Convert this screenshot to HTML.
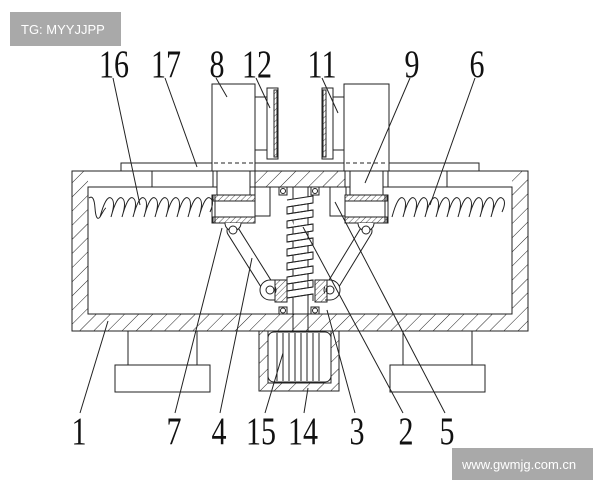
<!DOCTYPE html>
<html><head><meta charset="utf-8"><style>
html,body{margin:0;padding:0;background:#fff;}
svg{display:block;}
.n{font-family:"Liberation Serif",serif;font-size:30px;fill:#111;}
</style></head><body>
<svg width="600" height="480" viewBox="0 0 600 480" xmlns="http://www.w3.org/2000/svg">
<defs>
<pattern id="h" width="10" height="10" patternUnits="userSpaceOnUse" patternTransform="rotate(45)">
<line x1="0" y1="0" x2="0" y2="10" stroke="#222" stroke-width="1"/>
</pattern>
<pattern id="hs" width="4" height="4" patternUnits="userSpaceOnUse" patternTransform="rotate(45)">
<line x1="0" y1="0" x2="0" y2="4" stroke="#222" stroke-width="0.8"/>
</pattern>
</defs>
<g fill="none" stroke="#222" stroke-width="1">
<!-- frame walls -->
<path d="M72 171H528V331H72Z M88 187V314H512V187Z" fill="url(#h)" fill-rule="evenodd"/>
<!-- top plate 17 -->
<rect x="121" y="163" width="358" height="8" fill="#fff"/>
<!-- blocks 8 and 9 -->
<rect x="212" y="84" width="43" height="87" fill="#fff"/>
<rect x="344" y="84" width="45" height="87" fill="#fff"/>
<line x1="214" y1="163" x2="253" y2="163" stroke-dasharray="4,3"/>
<line x1="346" y1="163" x2="387" y2="163" stroke-dasharray="4,3"/>
<rect x="255" y="97" width="12" height="53" fill="#fff"/>
<rect x="333" y="97" width="11" height="53" fill="#fff"/>
<rect x="267" y="88" width="11" height="71" fill="#fff"/>
<rect x="274" y="90" width="3" height="67" fill="url(#hs)"/>
<rect x="322" y="88" width="11" height="71" fill="#fff"/>
<rect x="323" y="90" width="3" height="67" fill="url(#hs)"/>
<!-- openings in top wall -->
<rect x="88" y="171" width="125" height="16" fill="#fff" stroke="none"/>
<rect x="388" y="171" width="124" height="16" fill="#fff" stroke="none"/>
<line x1="88" y1="171" x2="213" y2="171"/><line x1="388" y1="171" x2="512" y2="171"/>
<line x1="88" y1="187" x2="213" y2="187"/><line x1="388" y1="187" x2="512" y2="187"/>
<line x1="152" y1="171" x2="152" y2="187"/><line x1="447" y1="171" x2="447" y2="187"/>
<rect x="213" y="171" width="42" height="16" fill="#fff"/>
<rect x="345" y="171" width="43" height="16" fill="#fff"/>
<!-- necks -->
<rect x="217" y="171" width="33" height="24" fill="#fff"/>
<rect x="350" y="171" width="33" height="24" fill="#fff"/>
<!-- guides -->
<rect x="255" y="187" width="15" height="29" fill="#fff"/>
<rect x="330" y="187" width="16" height="29" fill="#fff"/>
<!-- sliders -->
<rect x="212" y="195" width="43" height="28" fill="#fff"/>
<rect x="213" y="195" width="42" height="6" fill="url(#hs)"/>
<rect x="213" y="217" width="42" height="6" fill="url(#hs)"/>
<line x1="215" y1="195" x2="215" y2="223"/>
<rect x="345" y="195" width="43" height="28" fill="#fff"/>
<rect x="345" y="195" width="42" height="6" fill="url(#hs)"/>
<rect x="345" y="217" width="42" height="6" fill="url(#hs)"/>
<line x1="385" y1="195" x2="385" y2="223"/>
<!-- horizontal springs -->
<path d="M89 198 q5 -4 6 10 q1 14 5 9 q5 -9 6 -9 M100 217 q6 -22 11 -19 q5 3 0 19 q6 -22 11 -19 q5 3 0 19 q6 -22 11 -19 q5 3 0 19 q6 -22 11 -19 q5 3 0 19 q6 -22 11 -19 q5 3 0 19 q6 -22 11 -19 q5 3 0 19 q6 -22 11 -19 q5 3 0 19 q6 -22 11 -19 q5 3 0 19 q6 -22 11 -19 q5 3 0 19 q6 -22 11 -19 q5 3 0 14"/>
<path d="M392 217 q6 -22 11 -19 q5 3 0 19 q6 -22 11 -19 q5 3 0 19 q6 -22 11 -19 q5 3 0 19 q6 -22 11 -19 q5 3 0 19 q6 -22 11 -19 q5 3 0 19 q6 -22 11 -19 q5 3 0 19 q6 -22 11 -19 q5 3 0 19 q6 -22 11 -19 q5 3 0 19 q6 -22 11 -19 q5 3 0 19 q6 -22 11 -19 q5 3 0 14"/>
<!-- central rod & bearings -->
<rect x="293" y="187" width="15" height="127" fill="#fff"/>
<rect x="279" y="187" width="8" height="8" fill="#fff"/><circle cx="283" cy="191" r="2.5"/>
<rect x="311" y="187" width="8" height="8" fill="#fff"/><circle cx="315" cy="191" r="2.5"/>
<rect x="279" y="307" width="8" height="7" fill="#fff"/><circle cx="283" cy="310.5" r="2.5"/>
<rect x="311" y="307" width="8" height="7" fill="#fff"/><circle cx="315" cy="310.5" r="2.5"/>
<!-- central spring -->
<path d="M287 200 L313 196 L313 203 L287 207 L287 214 L313 210 L313 217 L287 221 L287 228 L313 224 L313 231 L287 235 L287 242 L313 238 L313 245 L287 249 L287 256 L313 252 L313 259 L287 263 L287 270 L313 266 L313 273 L287 277 L287 284 L313 280 L313 287 L287 291 L287 298 L313 294 L313 301" fill="#fff"/>
<path d="M287 207 L313 203 M287 214 L313 210 M287 221 L313 217 M287 228 L313 224 M287 235 L313 231 M287 242 L313 238 M287 249 L313 245 M287 256 L313 252 M287 263 L313 259 M287 270 L313 266 M287 277 L313 273 M287 284 L313 280 M287 291 L313 287 M287 298 L313 294"/>
<!-- links -->
<line x1="233" y1="231" x2="270" y2="290" stroke="#222" stroke-width="13" stroke-linecap="round"/>
<line x1="233" y1="231" x2="270" y2="290" stroke="#fff" stroke-width="11" stroke-linecap="round"/>
<line x1="366" y1="231" x2="330" y2="290" stroke="#222" stroke-width="13" stroke-linecap="round"/>
<line x1="366" y1="231" x2="330" y2="290" stroke="#fff" stroke-width="11" stroke-linecap="round"/>
<path d="M225 223 A8 8 0 0 0 241 223" fill="#fff"/>
<path d="M358 223 A8 8 0 0 0 374 223" fill="#fff"/>
<circle cx="233" cy="230" r="4" fill="#fff"/>
<circle cx="366" cy="230" r="4" fill="#fff"/>
<!-- lower lugs -->
<path d="M275 280 H270 A10 10 0 0 0 270 300 H275" fill="#fff"/>
<path d="M325 280 H330 A10 10 0 0 1 330 300 H325" fill="#fff"/>
<circle cx="270" cy="290" r="4" fill="#fff"/>
<circle cx="330" cy="290" r="4" fill="#fff"/>
<rect x="275" y="280" width="12" height="22" fill="url(#hs)"/>
<rect x="315" y="280" width="12" height="22" fill="url(#hs)"/>
<!-- motor housing -->
<path d="M259 331V391H339V331H331V383H268V331Z" fill="url(#h)"/>
<path d="M259 331V391H339V331H331V383H268V331Z" fill="none"/>
<rect x="268" y="332" width="63" height="50" rx="6" fill="#fff"/>
<path d="M277 333V381M283 333V381M289 333V381M295 333V381M301 333V381M307 333V381M313 333V381M319 333V381"/>
<line x1="293" y1="314" x2="293" y2="332"/><line x1="308" y1="314" x2="308" y2="332"/>
<!-- feet -->
<rect x="128" y="331" width="69" height="34" fill="#fff"/>
<rect x="115" y="365" width="95" height="27" fill="#fff"/>
<rect x="403" y="331" width="69" height="34" fill="#fff"/>
<rect x="390" y="365" width="95" height="27" fill="#fff"/>
<!-- leader lines -->
<path d="M113 78L140 205 M165 78L197 167 M216 78L227 97 M256 78L270 108 M322 78L338 113 M410 78L365 183 M475 78L430 205"/>
<path d="M80 413L108 321 M175 413L222 228 M220 413L252 258 M265 413L283 353 M304 413L308 388 M355 413L327 310 M403 413L303 227 M445 413L335 202"/>
</g>
<g class="n" text-anchor="middle">
<text transform="translate(114,77) scale(1,1.3)">16</text>
<text transform="translate(166,77) scale(1,1.3)">17</text>
<text transform="translate(217,77) scale(1,1.3)">8</text>
<text transform="translate(257,77) scale(1,1.3)">12</text>
<text transform="translate(322,77) scale(1,1.3)">11</text>
<text transform="translate(412,77) scale(1,1.3)">9</text>
<text transform="translate(477,77) scale(1,1.3)">6</text>
<text transform="translate(79,444) scale(1,1.3)">1</text>
<text transform="translate(174,444) scale(1,1.3)">7</text>
<text transform="translate(219,444) scale(1,1.3)">4</text>
<text transform="translate(261,444) scale(1,1.3)">15</text>
<text transform="translate(303,444) scale(1,1.3)">14</text>
<text transform="translate(357,444) scale(1,1.3)">3</text>
<text transform="translate(406,444) scale(1,1.3)">2</text>
<text transform="translate(447,444) scale(1,1.3)">5</text>
</g>
<rect x="10" y="12" width="111" height="34" fill="#a9a9a9"/>
<text x="21" y="34" font-family="Liberation Sans,sans-serif" font-size="13" fill="#fff">TG: MYYJJPP</text>
<rect x="452" y="448" width="141" height="34" fill="#a9a9a9"/>
<text x="462" y="469" font-family="Liberation Sans,sans-serif" font-size="13" fill="#fff">www.gwmjg.com.cn</text>
</svg>
</body></html>
